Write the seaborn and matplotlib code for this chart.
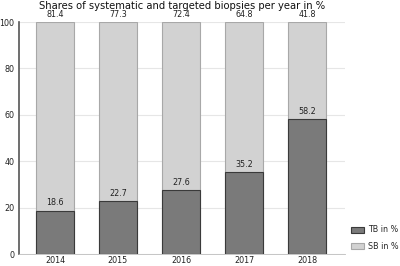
import pandas as pd
import matplotlib.pyplot as plt
import seaborn as sns

years = ['2014', '2015', '2016', '2017', '2018']
tb = [18.6, 22.7, 27.6, 35.2, 58.2]
sb = [81.4, 77.3, 72.4, 64.8, 41.8]

df = pd.DataFrame({'year': years, 'TB': tb, 'SB': sb})
df['total'] = df['TB'] + df['SB']

sns.set_style('white')
fig = plt.figure(figsize=(4, 2.66), dpi=100)
ax = fig.add_axes([0.0475, 0.045, 0.815, 0.872])

# stacked: draw full height (SB on top) first, then TB over it
sns.barplot(data=df, x='year', y='total', color='#d2d2d2', edgecolor='#a8a8a8',
            linewidth=0.8, width=0.6, saturation=1, ax=ax, label='SB in %')
sns.barplot(data=df, x='year', y='TB', color='#7a7a7a', edgecolor='#3a3a3a',
            linewidth=0.8, width=0.6, saturation=1, ax=ax, label='TB in %')

for i, (t, s) in enumerate(zip(tb, sb)):
    ax.text(i, t + 1.5, f'{t:.1f}', ha='center', va='bottom', fontsize=5.8, color='#222')
    ax.text(i, 101.5, f'{s:.1f}', ha='center', va='bottom', fontsize=5.8, color='#222')

ax.set_ylim(0, 100)
ax.set_xlim(-0.57, 4.6)
ax.set_yticks([0, 20, 40, 60, 80, 100])
ax.yaxis.grid(True, color='#e6e6e6', linewidth=0.8)
ax.set_axisbelow(True)
ax.set_xlabel('')
ax.set_ylabel('')
ax.tick_params(axis='both', labelsize=5.8, length=2, pad=1.5, colors='#222')
ax.tick_params(axis='x', length=0)
for side in ['top', 'right']:
    ax.spines[side].set_visible(False)
ax.spines['left'].set_color('#555')
ax.spines['left'].set_linewidth(1.2)
ax.spines['bottom'].set_color('#bbb')
ax.spines['bottom'].set_linewidth(0.6)

handles, labels = ax.get_legend_handles_labels()
order = [labels.index('TB in %'), labels.index('SB in %')]
ax.legend([handles[k] for k in order], [labels[k] for k in order],
          loc='lower left', bbox_to_anchor=(1.0, -0.01), frameon=False,
          fontsize=5.8, handlelength=1.6, handleheight=0.8, borderaxespad=0.3,
          handletextpad=0.6, labelspacing=0.9)

fig.text(0.455, 0.997, 'Shares of systematic and targeted biopsies per year in %',
         ha='center', va='top', fontsize=7.2, color='#111')

fig.savefig('out.png', dpi=100)
